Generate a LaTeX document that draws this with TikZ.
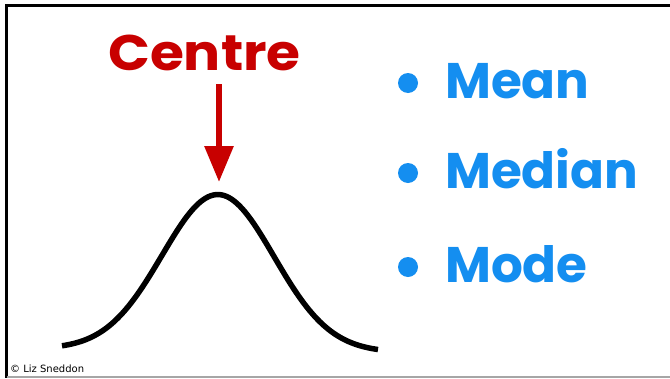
\documentclass[tikz,border=0pt]{standalone}
\usepackage{fontspec}
\newfontfamily\hand{Poppins}
\newfontfamily\creditfont{DejaVu Sans}
\usetikzlibrary{arrows.meta}
\definecolor{cred}{RGB}{200,0,0}
\definecolor{cblue}{RGB}{20,142,240}
\tikzset{
  bigtext/.style={inner sep=0pt, font=\hand\bfseries\fontsize{50}{50}\selectfont},
  bullet/.style={circle, fill=cblue, inner sep=0pt, minimum size=20pt},
  curve/.style={line width=5.5pt, line cap=butt},
}
\begin{document}
\begin{tikzpicture}[x=1pt,y=-1pt]
\useasboundingbox (0,0) rectangle (670,378);
\fill[white] (0,0) rectangle (670,378);
% frame
\draw[line width=3pt] (5,5.5) -- (670,5.5);
\draw[line width=3pt] (6.5,4) -- (6.5,378);
\draw[line width=1.5pt, gray!70] (6.5,376.8) -- (670,376.8);
% centre label
\node[bigtext, text=cred, anchor=base west] (centre) at (108,70) {\scalebox{1.1}[1]{Centre}};
\coordinate (peak) at (219,182);
\coordinate (top) at (219,84);
\draw[cred, line width=6pt, -{Triangle[length=36pt,width=28pt]}] (top) -- (peak);
% bell curve
\draw[curve, domain=62:378, samples=120, smooth] plot (\x, {349 + 0.01*(\x-62) - 156*exp(-0.5*((\x-218)/56)^2)});
% list
\node[bullet] (b1) at (408,83) {};
\node[bullet] (b2) at (408,173) {};
\node[bullet] (b3) at (408,267) {};
\node[bigtext, text=cblue, anchor=base west] (mean) at (445,98) {Mean};
\node[bigtext, text=cblue, anchor=base west] (median) at (445,188) {Median};
\node[bigtext, text=cblue, anchor=base west] (mode) at (445,282) {Mode};
% credit
\node[inner sep=0pt, anchor=base west, font=\creditfont\fontsize{10}{11}\selectfont] (credit) at (10,372) {© Liz Sneddon};
\end{tikzpicture}
\end{document}
